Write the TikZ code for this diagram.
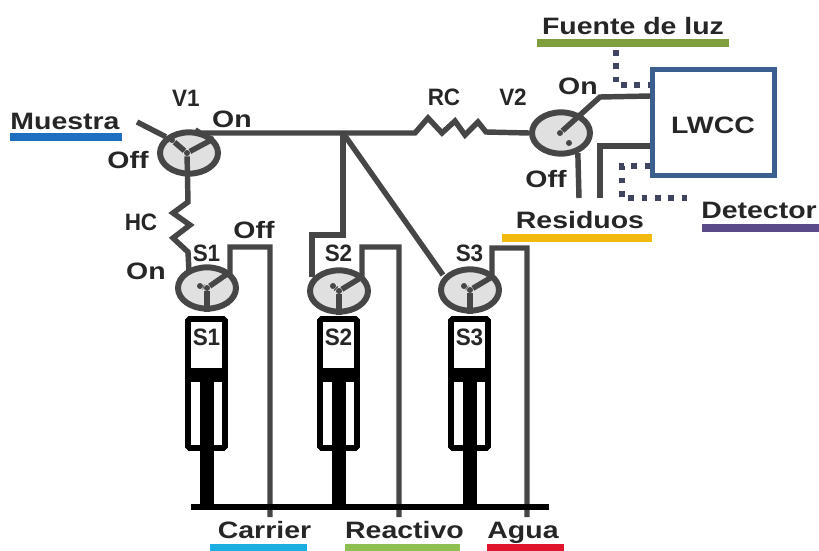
\documentclass[tikz,border=0pt]{standalone}
\usepackage{fontspec}
\setmainfont{Liberation Sans}
\usepackage{tikz}
\usetikzlibrary{positioning, shapes.geometric}

\definecolor{pipegray}{HTML}{464646}
\definecolor{boxblue}{HTML}{3B5F8F}
\definecolor{dotnavy}{HTML}{3F4560}
\definecolor{barblue}{HTML}{1F6FBF}
\definecolor{barolive}{HTML}{7F9F3F}
\definecolor{bargold}{HTML}{F2B90F}
\definecolor{barpurple}{HTML}{5B4A8A}
\definecolor{barcyan}{HTML}{1CAEE0}
\definecolor{bargreen}{HTML}{8DC050}
\definecolor{barred}{HTML}{E0142C}

\tikzset{
    lbl/.style={font=\fontsize{13.5}{14}\selectfont\bfseries, text=black!85, inner sep=0pt, xscale=1.2},
    lblsm/.style={lbl, xscale=0.79},
    pipe/.style={draw=pipegray, line width=3.1pt},
    optic/.style={draw=dotnavy, line width=3.2pt, dash pattern=on 3.2pt off 4.4pt},
    valve/.style={ellipse, draw=pipegray, line width=3.4pt, fill=black!12, minimum width=33pt, minimum height=23.5pt, inner sep=0pt},
    hub/.style={circle, fill=pipegray, minimum size=3.4pt, inner sep=0pt},
    bar/.style={line width=4pt}
}

\begin{document}
\begin{tikzpicture}[x=0.02cm, y=-0.02cm]
\useasboundingbox (0,0) rectangle (819,551);

% Valves
\node[valve] (v1) at (189,153) {};
\node[valve] (v2) at (561,133) {};
\node[valve] (s1) at (207,288) {};
\node[valve] (s2) at (339,291) {};
\node[valve] (s3) at (470,290) {};
\node[hub] (h1) at (187,153) {};
\node[hub] (h2) at (560,133) {};
\node[hub] (h3) at (207,288) {};
\node[hub] (h4) at (339,291) {};
\node[hub] (h5) at (470,290) {};
\node[hub] (d1) at (172,140) {};
\node[hub] (d2) at (569,143) {};
\node[hub] (d3) at (200,286) {};
\node[hub] (d4) at (333,286) {};
\node[hub] (d5) at (464,286) {};

% LWCC
\node[rectangle, draw=boxblue, line width=2.8pt, fill=white, minimum width=69pt, minimum height=60pt, inner sep=0pt] (lwcc) at (713.5,122.5) {};
\node[lbl] (lwcclbl) at (713,125) {LWCC};

% Free ends
\coordinate (muestraend) at (137,122);
\coordinate (tee) at (343,133);
\coordinate (offa) at (579,198);
\coordinate (offb) at (600,198);
\coordinate (fuenteend) at (616,50);
\coordinate (detend) at (690,198);
\coordinate (carrierend) at (270,517);
\coordinate (reactivoend) at (399,517);
\coordinate (aguaend) at (527,517);

% Tubing
\draw[pipe] (muestraend) -- (v1.145);
\draw[pipe] (h1) -- (d1);
\draw[pipe] (h1) -- (v1.30);
\draw[pipe] (v1.75) -- (200,133) -- (415,133) -- (428,118) -- (442,133) -- (455,121) -- (465,135) -- (478,122) -- (486,132) -- (v2.west);
\draw[pipe] (h1) -- (188,202) -- (173,213) -- (190,225) -- (173,238) -- (188,252) -- (189,272);
\draw[pipe] (h2) -- (600,97) -- (lwcc.west |- 0,96);
\draw[pipe] (v2.-50) -- (offa);
\draw[pipe] (lwcc.west |- 0,146) -- (600,146) -- (offb);
\draw[pipe] (h3) -- (d3);
\draw[pipe] (h3) -- (s1.south);
\draw[pipe] (h3) -- (230,272) -- (230,247) -- (270,247) -- (carrierend);
\draw[pipe] (tee) -- (343,235) -- (312,235) -- (312,277);
\draw[pipe] (h4) -- (d4);
\draw[pipe] (h4) -- (s2.south);
\draw[pipe] (h4) -- (362,277) -- (362,247) -- (399,247) -- (reactivoend);
\draw[pipe] (tee) -- (443,275);
\draw[pipe] (h5) -- (d5);
\draw[pipe] (h5) -- (s3.south);
\draw[pipe] (h5) -- (492,277) -- (492,248) -- (527,248) -- (aguaend);

% Optical fibres
\draw[optic] (fuenteend) -- (616,85) -- (lwcc.west |- 0,85);
\draw[optic] (lwcc.west |- 0,166) -- (622,166) -- (622,198) -- (detend);

% Syringes
\foreach \name/\cx in {s1/206.5, s2/338.5, s3/469.5} {
    \draw[black, line width=3.4pt, rounded corners=1pt, fill=white] (\cx-18.5,319) rectangle (\cx+18.5,448);
    \fill[black] (\cx-18.5,368) rectangle (\cx+18.5,382);
    \fill[black] (\cx-7,375) rectangle (\cx+7,506);
    \node[lblsm] (\name syr) at (\cx,337) {\MakeUppercase{\name}};
    \node[lblsm] (\name lbl) at (\cx,253) {\MakeUppercase{\name}};
}
\draw[black, line width=3.2pt] (191,507) -- (549,507);

% Labels
\node[lblsm] (v1lbl) at (186,98) {V1};
\node[lblsm] (rclbl) at (444,97) {RC};
\node[lblsm] (v2lbl) at (513,97) {V2};
\node[lbl] (on1) at (232,119) {On};
\node[lbl] (off1) at (128,160) {Off};
\node[lblsm] (hclbl) at (141,222) {HC};
\node[lbl] (off2) at (254,230) {Off};
\node[lbl] (on2) at (146,271) {On};
\node[lbl] (on3) at (578,86) {On};
\node[lbl] (off3) at (546,179) {Off};

% Reagent labels
\node[lbl] (muestra) at (65,121) {Muestra};
\node[lbl] (fuente) at (633,26) {Fuente de luz};
\node[lbl] (residuos) at (580,220) {Residuos};
\node[lbl] (detector) at (759,210) {Detector};
\node[lbl] (carrier) at (264.5,530) {Carrier};
\node[lbl] (reactivo) at (404.5,530) {Reactivo};
\node[lbl] (agua) at (523,533) {Agua};

% Colour bars
\draw[bar, draw=barblue] (10,137) -- (122,137);
\draw[bar, draw=barolive] (537,43) -- (729,43);
\draw[bar, draw=bargold] (502,238) -- (652,238);
\draw[bar, draw=barpurple] (702,228) -- (819,228);
\draw[bar, draw=barcyan] (210,548) -- (307,548);
\draw[bar, draw=bargreen] (345,548) -- (460,548);
\draw[bar, draw=barred] (487,548) -- (564,548);

\end{tikzpicture}
\end{document}
